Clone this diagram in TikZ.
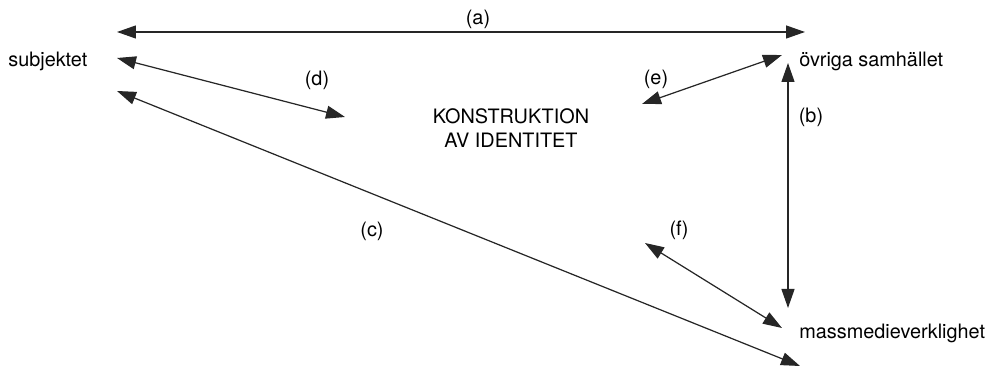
\documentclass[tikz,border=0pt]{standalone}
\usepackage{fontspec}
\setmainfont{TeX Gyre Heros}
\usepackage{tikz}
\usetikzlibrary{arrows.meta}
\tikzstyle{term} = [anchor=west, inner sep=0pt]
\tikzstyle{letter} = [inner sep=0pt]
\tikzstyle{link} = [{Triangle[length=0.38cm,width=0.26cm]}-{Triangle[length=0.38cm,width=0.26cm]},
line width=0.7pt, draw=black!85]

\begin{document}
\begin{tikzpicture}[x=0.02cm, y=-0.02cm, font=\fontsize{11.3}{13.4}\selectfont]
	\useasboundingbox (0,0) rectangle (995,367);

	\node [term] (subjektet) at (8,61) {subjektet};
	\node [term] (samhallet) at (799,61) {övriga samhället};
	\node [term] (massmedia) at (799,333) {massmedieverklighet};
	\node [letter, align=center] (identitet) at (511,128) {KONSTRUKTION\\AV IDENTITET};

	% ends of the arrows
	\coordinate (a1) at (117,32);
	\coordinate (a2) at (805,32);
	\coordinate (b1) at (788,63);
	\coordinate (b2) at (788,308);
	\coordinate (c1) at (117,91);
	\coordinate (c2) at (800,366);
	\coordinate (d1) at (117,58);
	\coordinate (d2) at (345,117);
	\coordinate (e1) at (782,55);
	\coordinate (e2) at (642,104);
	\coordinate (f1) at (645,243);
	\coordinate (f2) at (782,328);

	\draw [link] (a1) -- (a2);
	\draw [link] (b1) -- (b2);
	\draw [link] (c1) -- (c2);
	\draw [link] (d1) -- (d2);
	\draw [link] (e1) -- (e2);
	\draw [link] (f1) -- (f2);

	\node [letter] (la) at (478,19) {(a)};
	\node [letter] (lb) at (811,117) {(b)};
	\node [letter] (lc) at (372,231) {(c)};
	\node [letter] (ld) at (317,80) {(d)};
	\node [letter] (le) at (656,79) {(e)};
	\node [letter] (lf) at (679,230) {(f)};

\end{tikzpicture}
\end{document}
